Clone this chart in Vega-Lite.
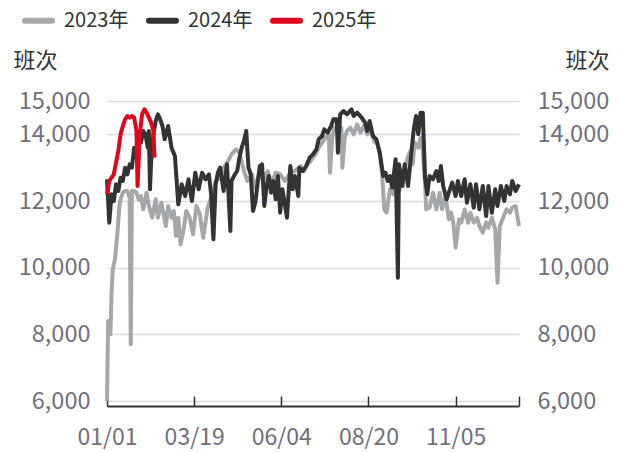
{
"$schema": "https://vega.github.io/schema/vega-lite/v6.json",
"width": 412, "height": 300,
"autosize": "none",
"padding": {"left": 107, "top": 101, "right": 103, "bottom": 51},
"background": "white",
"config": {"view": {"stroke": null}, "font": "Noto Sans CJK SC"},
"data": {"values": [
{"s":"2023年","d":1,"v":6000},{"s":"2023年","d":2,"v":8400},{"s":"2023年","d":3,"v":8400},{"s":"2023年","d":4,"v":8000},{"s":"2023年","d":5,"v":9200},{"s":"2023年","d":6,"v":9900},{"s":"2023年","d":7,"v":10100},{"s":"2023年","d":8,"v":10250},{"s":"2023年","d":10,"v":10950},{"s":"2023年","d":12,"v":11850},{"s":"2023年","d":13,"v":12050},{"s":"2023年","d":15,"v":12250},{"s":"2023年","d":17,"v":12300},{"s":"2023年","d":19,"v":12300},{"s":"2023年","d":20,"v":12200},{"s":"2023年","d":21,"v":12100},{"s":"2023年","d":22,"v":7700},{"s":"2023年","d":23,"v":12300},{"s":"2023年","d":25,"v":12300},{"s":"2023年","d":27,"v":12250},{"s":"2023年","d":29,"v":12050},{"s":"2023年","d":31,"v":12150},{"s":"2023年","d":33,"v":11750},{"s":"2023年","d":36,"v":12250},{"s":"2023年","d":38,"v":11850},{"s":"2023年","d":41,"v":11500},{"s":"2023年","d":44,"v":12050},{"s":"2023年","d":46,"v":11500},{"s":"2023年","d":49,"v":11950},{"s":"2023年","d":53,"v":11250},{"s":"2023年","d":55,"v":11850},{"s":"2023年","d":58,"v":11500},{"s":"2023年","d":60,"v":11700},{"s":"2023年","d":62,"v":10950},{"s":"2023年","d":64,"v":11500},{"s":"2023年","d":66,"v":10700},{"s":"2023年","d":69,"v":11200},{"s":"2023年","d":71,"v":11700},{"s":"2023年","d":74,"v":11500},{"s":"2023年","d":77,"v":11000},{"s":"2023年","d":80,"v":11850},{"s":"2023年","d":83,"v":11600},{"s":"2023年","d":86,"v":10900},{"s":"2023年","d":90,"v":11800},{"s":"2023年","d":92,"v":12000},{"s":"2023年","d":95,"v":12300},{"s":"2023年","d":97,"v":12600},{"s":"2023年","d":101,"v":12700},{"s":"2023年","d":104,"v":13000},{"s":"2023年","d":108,"v":13200},{"s":"2023年","d":111,"v":13400},{"s":"2023年","d":115,"v":13550},{"s":"2023年","d":118,"v":13450},{"s":"2023年","d":122,"v":12900},{"s":"2023年","d":125,"v":12600},{"s":"2023年","d":129,"v":12800},{"s":"2023年","d":132,"v":12400},{"s":"2023年","d":136,"v":12900},{"s":"2023年","d":139,"v":12600},{"s":"2023年","d":143,"v":12900},{"s":"2023年","d":146,"v":12500},{"s":"2023年","d":150,"v":12850},{"s":"2023年","d":154,"v":12800},{"s":"2023年","d":158,"v":12600},{"s":"2023年","d":163,"v":12850},{"s":"2023年","d":167,"v":12900},{"s":"2023年","d":172,"v":13050},{"s":"2023年","d":175,"v":12900},{"s":"2023年","d":178,"v":13100},{"s":"2023年","d":181,"v":13200},{"s":"2023年","d":185,"v":13400},{"s":"2023年","d":188,"v":13600},{"s":"2023年","d":191,"v":13750},{"s":"2023年","d":194,"v":13900},{"s":"2023年","d":197,"v":14000},{"s":"2023年","d":198,"v":12850},{"s":"2023年","d":200,"v":13900},{"s":"2023年","d":202,"v":14200},{"s":"2023年","d":205,"v":14050},{"s":"2023年","d":208,"v":14200},{"s":"2023年","d":209,"v":13000},{"s":"2023年","d":211,"v":13900},{"s":"2023年","d":213,"v":14100},{"s":"2023年","d":216,"v":14200},{"s":"2023年","d":219,"v":14000},{"s":"2023年","d":222,"v":14300},{"s":"2023年","d":225,"v":14050},{"s":"2023年","d":228,"v":14250},{"s":"2023年","d":231,"v":14000},{"s":"2023年","d":234,"v":14100},{"s":"2023年","d":237,"v":13800},{"s":"2023年","d":240,"v":13700},{"s":"2023年","d":242,"v":13400},{"s":"2023年","d":244,"v":12850},{"s":"2023年","d":246,"v":11750},{"s":"2023年","d":248,"v":11650},{"s":"2023年","d":251,"v":12350},{"s":"2023年","d":254,"v":12200},{"s":"2023年","d":257,"v":12850},{"s":"2023年","d":259,"v":12300},{"s":"2023年","d":261,"v":12500},{"s":"2023年","d":264,"v":12950},{"s":"2023年","d":267,"v":13350},{"s":"2023年","d":269,"v":13500},{"s":"2023年","d":271,"v":13100},{"s":"2023年","d":273,"v":13750},{"s":"2023年","d":276,"v":13600},{"s":"2023年","d":278,"v":13900},{"s":"2023年","d":280,"v":13500},{"s":"2023年","d":282,"v":12500},{"s":"2023年","d":283,"v":11750},{"s":"2023年","d":286,"v":11800},{"s":"2023年","d":289,"v":12250},{"s":"2023年","d":292,"v":11750},{"s":"2023年","d":295,"v":12250},{"s":"2023年","d":297,"v":11750},{"s":"2023年","d":300,"v":12150},{"s":"2023年","d":303,"v":11450},{"s":"2023年","d":305,"v":11650},{"s":"2023年","d":307,"v":11350},{"s":"2023年","d":309,"v":10600},{"s":"2023年","d":312,"v":11450},{"s":"2023年","d":314,"v":11350},{"s":"2023年","d":317,"v":11750},{"s":"2023年","d":320,"v":11350},{"s":"2023年","d":322,"v":11650},{"s":"2023年","d":325,"v":11350},{"s":"2023年","d":328,"v":11500},{"s":"2023年","d":330,"v":11250},{"s":"2023年","d":333,"v":11050},{"s":"2023年","d":336,"v":11350},{"s":"2023年","d":338,"v":11200},{"s":"2023年","d":341,"v":11500},{"s":"2023年","d":344,"v":11150},{"s":"2023年","d":346,"v":9550},{"s":"2023年","d":348,"v":11250},{"s":"2023年","d":351,"v":11500},{"s":"2023年","d":354,"v":11750},{"s":"2023年","d":357,"v":11650},{"s":"2023年","d":359,"v":11800},{"s":"2023年","d":362,"v":11850},{"s":"2023年","d":365,"v":11250},
{"s":"2024年","d":1,"v":12650},{"s":"2024年","d":3,"v":11350},{"s":"2024年","d":5,"v":12200},{"s":"2024年","d":7,"v":12000},{"s":"2024年","d":9,"v":12500},{"s":"2024年","d":11,"v":12300},{"s":"2024年","d":13,"v":12700},{"s":"2024年","d":15,"v":12600},{"s":"2024年","d":17,"v":13000},{"s":"2024年","d":19,"v":12800},{"s":"2024年","d":21,"v":13100},{"s":"2024年","d":23,"v":13000},{"s":"2024年","d":25,"v":13600},{"s":"2024年","d":27,"v":13300},{"s":"2024年","d":29,"v":14000},{"s":"2024年","d":31,"v":13750},{"s":"2024年","d":33,"v":14100},{"s":"2024年","d":35,"v":14000},{"s":"2024年","d":37,"v":13600},{"s":"2024年","d":38,"v":14100},{"s":"2024年","d":39,"v":12350},{"s":"2024年","d":40,"v":13200},{"s":"2024年","d":42,"v":14000},{"s":"2024年","d":44,"v":14400},{"s":"2024年","d":46,"v":14600},{"s":"2024年","d":48,"v":14450},{"s":"2024年","d":50,"v":14250},{"s":"2024年","d":52,"v":13850},{"s":"2024年","d":55,"v":14250},{"s":"2024年","d":58,"v":13600},{"s":"2024年","d":61,"v":13350},{"s":"2024年","d":64,"v":11900},{"s":"2024年","d":67,"v":12500},{"s":"2024年","d":70,"v":12150},{"s":"2024年","d":73,"v":12650},{"s":"2024年","d":76,"v":12000},{"s":"2024年","d":79,"v":12850},{"s":"2024年","d":82,"v":12350},{"s":"2024年","d":85,"v":12850},{"s":"2024年","d":88,"v":12650},{"s":"2024年","d":91,"v":12800},{"s":"2024年","d":93,"v":12200},{"s":"2024年","d":95,"v":10850},{"s":"2024年","d":97,"v":12500},{"s":"2024年","d":99,"v":12850},{"s":"2024年","d":101,"v":13000},{"s":"2024年","d":104,"v":12300},{"s":"2024年","d":107,"v":13100},{"s":"2024年","d":110,"v":11100},{"s":"2024年","d":111,"v":12600},{"s":"2024年","d":114,"v":12800},{"s":"2024年","d":116,"v":12900},{"s":"2024年","d":118,"v":13300},{"s":"2024年","d":120,"v":13600},{"s":"2024年","d":122,"v":13800},{"s":"2024年","d":124,"v":14100},{"s":"2024年","d":126,"v":13000},{"s":"2024年","d":128,"v":12800},{"s":"2024年","d":130,"v":11700},{"s":"2024年","d":132,"v":11950},{"s":"2024年","d":134,"v":12500},{"s":"2024年","d":136,"v":13050},{"s":"2024年","d":138,"v":13100},{"s":"2024年","d":140,"v":11850},{"s":"2024年","d":142,"v":12450},{"s":"2024年","d":144,"v":12750},{"s":"2024年","d":146,"v":12250},{"s":"2024年","d":148,"v":12600},{"s":"2024年","d":150,"v":12050},{"s":"2024年","d":152,"v":12750},{"s":"2024年","d":154,"v":11650},{"s":"2024年","d":156,"v":12350},{"s":"2024年","d":160,"v":11500},{"s":"2024年","d":163,"v":13050},{"s":"2024年","d":165,"v":12350},{"s":"2024年","d":167,"v":12750},{"s":"2024年","d":170,"v":12150},{"s":"2024年","d":171,"v":13000},{"s":"2024年","d":174,"v":12900},{"s":"2024年","d":177,"v":13050},{"s":"2024年","d":180,"v":13300},{"s":"2024年","d":183,"v":13400},{"s":"2024年","d":186,"v":13550},{"s":"2024年","d":188,"v":13850},{"s":"2024年","d":191,"v":13950},{"s":"2024年","d":193,"v":14150},{"s":"2024年","d":196,"v":14050},{"s":"2024年","d":199,"v":14250},{"s":"2024年","d":201,"v":14450},{"s":"2024年","d":204,"v":14450},{"s":"2024年","d":205,"v":13450},{"s":"2024年","d":207,"v":14600},{"s":"2024年","d":210,"v":14700},{"s":"2024年","d":213,"v":14600},{"s":"2024年","d":217,"v":14750},{"s":"2024年","d":219,"v":14550},{"s":"2024年","d":222,"v":14650},{"s":"2024年","d":226,"v":14500},{"s":"2024年","d":229,"v":14350},{"s":"2024年","d":231,"v":14100},{"s":"2024年","d":233,"v":14400},{"s":"2024年","d":236,"v":13950},{"s":"2024年","d":239,"v":13850},{"s":"2024年","d":242,"v":13450},{"s":"2024年","d":245,"v":12750},{"s":"2024年","d":247,"v":12850},{"s":"2024年","d":249,"v":12600},{"s":"2024年","d":251,"v":12750},{"s":"2024年","d":253,"v":12400},{"s":"2024年","d":256,"v":13250},{"s":"2024年","d":258,"v":9700},{"s":"2024年","d":259,"v":13100},{"s":"2024年","d":262,"v":12450},{"s":"2024年","d":264,"v":13100},{"s":"2024年","d":267,"v":12450},{"s":"2024年","d":269,"v":13150},{"s":"2024年","d":272,"v":14150},{"s":"2024年","d":274,"v":14550},{"s":"2024年","d":276,"v":14000},{"s":"2024年","d":278,"v":14650},{"s":"2024年","d":280,"v":14650},{"s":"2024年","d":282,"v":12700},{"s":"2024年","d":284,"v":12200},{"s":"2024年","d":286,"v":12750},{"s":"2024年","d":289,"v":12650},{"s":"2024年","d":292,"v":12900},{"s":"2024年","d":294,"v":12600},{"s":"2024年","d":296,"v":13050},{"s":"2024年","d":298,"v":12450},{"s":"2024年","d":301,"v":12050},{"s":"2024年","d":303,"v":12250},{"s":"2024年","d":306,"v":12550},{"s":"2024年","d":309,"v":12150},{"s":"2024年","d":311,"v":12600},{"s":"2024年","d":314,"v":12150},{"s":"2024年","d":317,"v":12650},{"s":"2024年","d":319,"v":11950},{"s":"2024年","d":322,"v":12500},{"s":"2024年","d":325,"v":11800},{"s":"2024年","d":327,"v":12500},{"s":"2024年","d":330,"v":11750},{"s":"2024年","d":333,"v":12450},{"s":"2024年","d":336,"v":11550},{"s":"2024年","d":338,"v":12450},{"s":"2024年","d":341,"v":11650},{"s":"2024年","d":344,"v":12350},{"s":"2024年","d":346,"v":11850},{"s":"2024年","d":349,"v":12450},{"s":"2024年","d":352,"v":12000},{"s":"2024年","d":354,"v":12450},{"s":"2024年","d":357,"v":12200},{"s":"2024年","d":359,"v":12600},{"s":"2024年","d":362,"v":12300},{"s":"2024年","d":365,"v":12500},
{"s":"2025年","d":1,"v":12200},{"s":"2025年","d":2,"v":12400},{"s":"2025年","d":3,"v":12600},{"s":"2025年","d":5,"v":12700},{"s":"2025年","d":7,"v":12800},{"s":"2025年","d":9,"v":13150},{"s":"2025年","d":11,"v":13500},{"s":"2025年","d":13,"v":14000},{"s":"2025年","d":15,"v":14250},{"s":"2025年","d":17,"v":14450},{"s":"2025年","d":19,"v":14550},{"s":"2025年","d":21,"v":14500},{"s":"2025年","d":23,"v":14550},{"s":"2025年","d":25,"v":14500},{"s":"2025年","d":27,"v":14100},{"s":"2025年","d":28,"v":12450},{"s":"2025年","d":30,"v":14000},{"s":"2025年","d":32,"v":14600},{"s":"2025年","d":34,"v":14750},{"s":"2025年","d":36,"v":14650},{"s":"2025年","d":38,"v":14500},{"s":"2025年","d":40,"v":14350},{"s":"2025年","d":42,"v":14100},{"s":"2025年","d":43,"v":13300}
]},
"layer": [
 {"mark": {"type": "line", "strokeWidth": 4, "strokeJoin": "round"},
  "encoding": {
   "x": {"field": "d", "type": "quantitative",
         "scale": {"domain": [1, 365], "nice": false, "zero": false},
         "axis": {"values": [1, 78, 155, 232, 309, 365],
                  "labelExpr": "datum.value == 1 ? '01/01' : datum.value == 78 ? '03/19' : datum.value == 155 ? '06/04' : datum.value == 232 ? '08/20' : datum.value == 309 ? '11/05' : ''",
                  "title": null, "grid": false, "offset": 5,
                  "domainColor": "#333333", "domainWidth": 2,
                  "tickColor": "#333333", "tickWidth": 1.5, "tickSize": -10,
                  "labelPadding": 30, "labelFontSize": 23, "labelColor": "#6f6f7d",
                  "labelFlush": false, "labelOverlap": false}},
   "y": {"field": "v", "type": "quantitative",
         "scale": {"domain": [6000, 15000], "nice": false, "zero": false},
         "axis": {"orient": "left", "values": [6000, 8000, 10000, 12000, 14000, 15000], "format": ",.0f",
                  "domain": false, "ticks": false, "tickSize": 0, "labelPadding": 17,
                  "labelFontSize": 23.5, "labelColor": "#6f6f7d", "labelOverlap": false, "labelFlush": false,
                  "grid": true, "gridColor": "#d9dbe7", "gridWidth": 1.5,
                  "title": "班次", "titleAngle": 0, "titleX": -94, "titleY": -41, "titleAlign": "left",
                  "titleBaseline": "middle", "titleFontSize": 22, "titleFontWeight": "normal", "titleColor": "#333333"}},
   "color": {"field": "s", "type": "nominal",
             "scale": {"domain": ["2023年", "2024年", "2025年"], "range": ["#a5a8ab", "#333333", "#e0061b"]},
             "legend": {"orient": "none", "legendX": -85, "legendY": -97, "direction": "horizontal", "title": null,
                        "symbolType": "stroke", "symbolSize": 729, "symbolStrokeWidth": 6,
                        "labelFontSize": 20, "labelColor": "#333333", "labelOffset": 9, "columnPadding": 8, "padding": 0,
                        "encode": {"symbols": {"update": {"strokeCap": {"value": "round"}}}}}}
  }},
 {"mark": {"type": "point", "opacity": 0},
  "encoding": {
   "x": {"field": "d", "type": "quantitative"},
   "y": {"field": "v", "type": "quantitative",
         "axis": {"orient": "right", "values": [6000, 8000, 10000, 12000, 14000, 15000], "format": ",.0f",
                  "domain": false, "ticks": false, "tickSize": 0, "labelPadding": 18,
                  "labelFontSize": 23.5, "labelColor": "#6f6f7d", "labelOverlap": false, "labelFlush": false,
                  "grid": false,
                  "title": "班次", "titleAngle": 0, "titleX": 90, "titleY": -41, "titleAlign": "right",
                  "titleBaseline": "middle", "titleFontSize": 22, "titleFontWeight": "normal", "titleColor": "#333333"}}
  }}
],
"resolve": {"axis": {"y": "independent"}}
}
